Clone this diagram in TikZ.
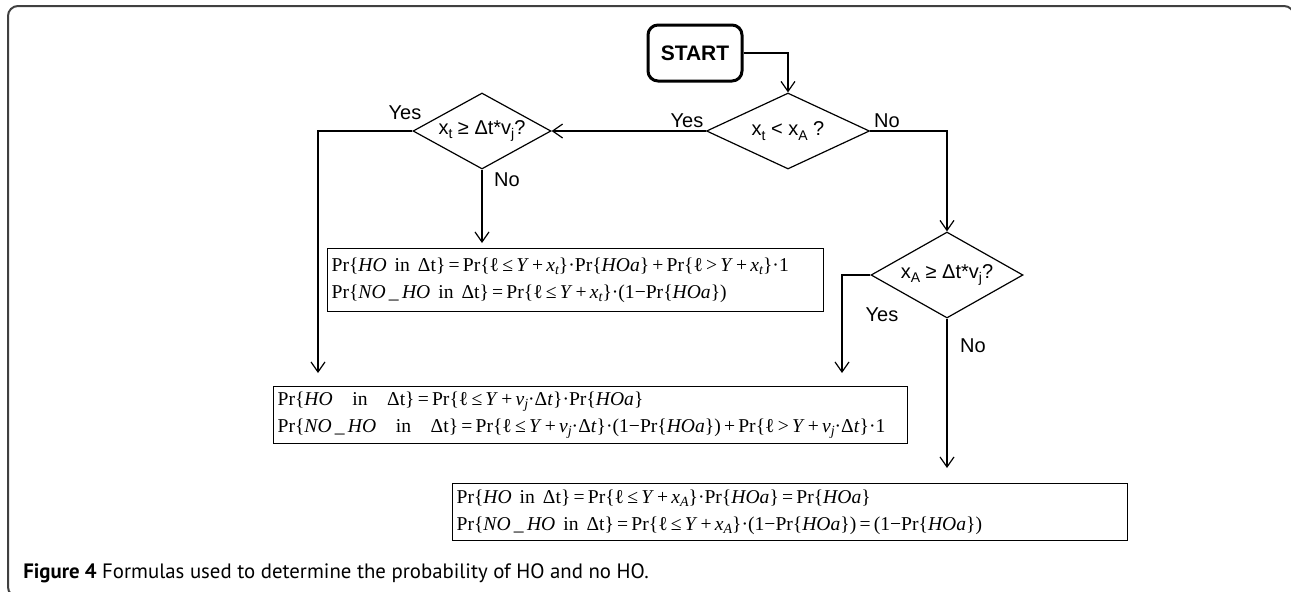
\documentclass[tikz,border=0pt]{standalone}
\usepackage{fontspec}
\setmainfont{Liberation Serif}
\setsansfont{Liberation Sans}
\newfontfamily\capfont{PT Sans}
\usetikzlibrary{shapes.geometric,arrows.meta}

\newcommand{\sbs}[1]{\raisebox{-0.4ex}{\scriptsize #1}}
\newcommand{\prb}[1]{Pr\{#1\}}
\newcommand{\ho}{\textit{HO}}
\newcommand{\noho}{\textit{NO}\,\_\,\textit{HO}}
\newcommand{\hoa}{\textit{HOa}}
\newcommand{\vdt}{\textit{v\sbs{j}}·Δ\textit{t}}
\newcommand{\inn}{\hspace{4pt}in\hspace{4pt}}
\newcommand{\fline}[1]{\mbox{\spaceskip=1.6pt\relax #1}}

\tikzset{
  startbox/.style={draw, rounded corners=5pt, line width=1.5pt, minimum width=47pt,
    minimum height=28pt, font=\sffamily\bfseries\fontsize{10.5}{13}\selectfont},
  decision/.style={diamond, draw, inner sep=0pt, shape aspect=1.9,
    font=\sffamily\fontsize{10}{12}\selectfont},
  formbox/.style={draw, anchor=north west, align=left, inner xsep=2pt, inner ysep=1pt,
    font=\rmfamily\fontsize{9.8}{13.5}\selectfont},
  answer/.style={font=\sffamily\fontsize{10}{12}\selectfont},
  flow/.style={-{Straight Barb[length=5pt,width=7pt]}},
}

\begin{document}
\begin{tikzpicture}[x=0.5pt, y=-0.5pt, line width=0.6pt]
        \useasboundingbox (0,0) rectangle (1291,591);
        \draw[black!75, line width=1pt, rounded corners=5pt] (8,6) rectangle (1294,597);

        % start and decisions
        \node[startbox] (start) at (695,53) {START};
        \node[decision, minimum width=81.5pt, minimum height=38pt] (cmpA) at (788,131) {x\sbs{t} < x\sbs{A} ?};
        \node[decision, minimum width=69pt, minimum height=38pt] (cmpT) at (482,131) {x\sbs{t} ≥ Δt*v\sbs{j}?};
        \node[decision, minimum width=76pt, minimum height=43pt] (cmpV) at (947,275) {x\sbs{A} ≥ Δt*v\sbs{j}?};

        % formula boxes
        \node[formbox, text width=244pt, minimum height=31.5pt] (boxA) at (327,248)
          {\fline{\prb{\ho\inn Δt} = \prb{ℓ ≤ \textit{Y} + \textit{x\sbs{t}}}·\prb{\hoa} + \prb{ℓ > \textit{Y} + \textit{x\sbs{t}}}·1}\\
           \fline{\prb{\noho\inn Δt} = \prb{ℓ ≤ \textit{Y} + \textit{x\sbs{t}}}·(1−\prb{\hoa})}};
        \node[formbox, text width=313pt, minimum height=28.5pt] (boxB) at (273,386)
          {\fline{\prb{\ho\quad in\quad Δt} = \prb{ℓ ≤ \textit{Y} + \vdt}·\prb{\hoa}}\\
           \fline{\prb{\noho\quad in\quad Δt} = \prb{ℓ ≤ \textit{Y} + \vdt}·(1−\prb{\hoa}) + \prb{ℓ > \textit{Y} + \vdt}·1}};
        \node[formbox, text width=333.5pt, minimum height=28.5pt] (boxC) at (452,483)
          {\fline{\prb{\ho\inn Δt} = \prb{ℓ ≤ \textit{Y} + \textit{x\sbs{A}}}·\prb{\hoa} = \prb{\hoa}}\\
           \fline{\prb{\noho\inn Δt} = \prb{ℓ ≤ \textit{Y} + \textit{x\sbs{A}}}·(1−\prb{\hoa}) = (1−\prb{\hoa})}};

        % connectors
        \coordinate (tYes) at (318,131);
        \coordinate (vYes) at (842,275);
        \draw[flow] (start.east) -| (cmpA.north);
        \draw[flow] (cmpA.west) -- (cmpT.east);
        \draw[flow] (cmpA.east) -| (cmpV.north);
        \draw[flow, shorten >=2.5pt] (cmpT.south) -- (cmpT.south |- boxA.north);
        \draw[flow, shorten >=6.5pt] (cmpT.west) -- (tYes) -- (tYes |- boxB.north);
        \draw[flow, shorten >=6.5pt] (cmpV.west) -- (vYes) -- (vYes |- boxB.north);
        \draw[flow, shorten >=7.5pt] (cmpV.south) -- (cmpV.south |- boxC.north);

        % answers
        \node[answer] (yesA) at (687,121) {Yes};
        \node[answer] (noA) at (887,121) {No};
        \node[answer] (yesT) at (405,113) {Yes};
        \node[answer] (noT) at (507,180) {No};
        \node[answer] (yesV) at (882,315) {Yes};
        \node[answer] (noV) at (973,346) {No};

        \node[anchor=west, font=\capfont\fontsize{10.4}{12}\selectfont] (caption) at (16,573)
          {\textbf{Figure 4} Formulas used to determine the probability of HO and no HO.};
\end{tikzpicture}
\end{document}
